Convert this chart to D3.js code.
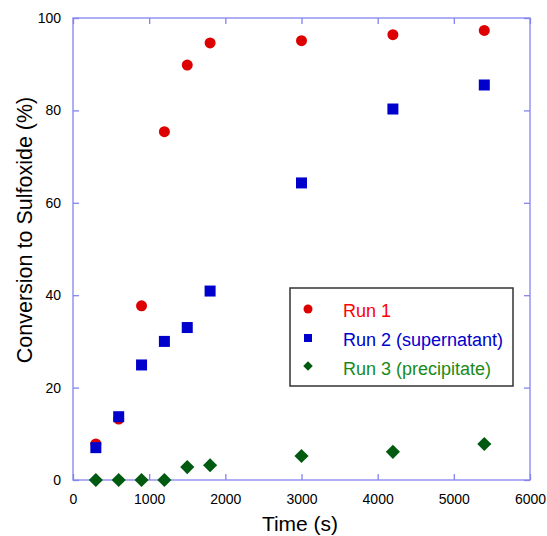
<!DOCTYPE html>
<html>
<head>
<meta charset="utf-8">
<script src="https://cdn.jsdelivr.net/npm/d3@7"></script>
<style>
  body { margin: 0; background: #fff; }
  text { font-family: Arial, "Liberation Sans", sans-serif; }
</style>
</head>
<body>
<svg id="chart" width="547" height="536"></svg>
<script>
const times = [300, 600, 900, 1200, 1500, 1800, 3000, 4200, 5400];
const run1 = [7.8, 13.2, 37.7, 75.4, 89.8, 94.6, 95.1, 96.4, 97.3];
const run2 = [7.0, 13.7, 24.9, 30.0, 33.0, 40.9, 64.3, 80.3, 85.5];
const run3 = [0, 0, 0, 0, 2.8, 3.2, 5.2, 6.1, 7.8];
const xTicks = [0, 1000, 2000, 3000, 4000, 5000, 6000];
const yTicks = [0, 20, 40, 60, 80, 100];
const seriesNames = ["Run 1", "Run 2 (supernatant)", "Run 3 (precipitate)"];

const svg = d3.select("#chart");
const mLeft = 73, mRight = 530, mTop = 18, mBottom = 480;
const axisColor = "#8484f0";

const x = d3.scaleLinear().domain([0, 6000]).range([mLeft, mRight]);
const y = d3.scaleLinear().domain([0, 100]).range([mBottom, mTop]);

// frame
svg.append("rect")
  .attr("x", mLeft).attr("y", mTop)
  .attr("width", mRight - mLeft).attr("height", mBottom - mTop)
  .attr("fill", "none").attr("stroke", axisColor).attr("stroke-width", 1.3);

// axes with inner ticks
function styleAxis(g) {
  g.select(".domain").remove();
  g.selectAll("line").attr("stroke", axisColor).attr("stroke-width", 1.3);
  g.selectAll("text").attr("fill", "#000").style("font-size", "14px");
}

svg.append("g").attr("transform", `translate(0,${mBottom})`)
  .call(d3.axisBottom(x).tickValues(xTicks).tickFormat(d3.format("d"))
    .tickSizeInner(-6).tickSizeOuter(0).tickPadding(14))
  .call(styleAxis);
svg.append("g").attr("transform", `translate(0,${mTop})`)
  .call(d3.axisTop(x).tickValues(xTicks).tickSizeInner(-6).tickSizeOuter(0).tickFormat(""))
  .call(styleAxis);
svg.append("g").attr("transform", `translate(${mLeft},0)`)
  .call(d3.axisLeft(y).tickValues(yTicks).tickSizeInner(-6).tickSizeOuter(0).tickPadding(12))
  .call(styleAxis);
svg.append("g").attr("transform", `translate(${mRight},0)`)
  .call(d3.axisRight(y).tickValues(yTicks).tickSizeInner(-6).tickSizeOuter(0).tickFormat(""))
  .call(styleAxis);

// axis titles
svg.append("text")
  .attr("x", 300).attr("y", 531)
  .attr("text-anchor", "middle").style("font-size", "21px")
  .text("Time (s)");
svg.append("text")
  .attr("transform", "translate(32,230) rotate(-90)")
  .attr("text-anchor", "middle").style("font-size", "21.5px")
  .text("Conversion to Sulfoxide (%)");

const plot = svg.append("g");

plot.selectAll("circle.r1").data(times.map((t, i) => [t, run1[i]]))
  .enter().append("circle")
  .attr("cx", d => x(d[0])).attr("cy", d => y(d[1]))
  .attr("r", 5.5).attr("fill", "#dd0000");

plot.selectAll("rect.r2").data(times.map((t, i) => [t, run2[i]]))
  .enter().append("rect")
  .attr("x", d => x(d[0]) - 5.5).attr("y", d => y(d[1]) - 5.5)
  .attr("width", 11).attr("height", 11).attr("fill", "#0000cc");

const diamond = d3.symbol().type(d3.symbolSquare).size(100);
plot.selectAll("path.r3").data(times.map((t, i) => [t, run3[i]]))
  .enter().append("path")
  .attr("d", diamond)
  .attr("transform", d => `translate(${x(d[0])},${y(d[1])}) rotate(45)`)
  .attr("fill", "#005a10");

// legend
const lg = svg.append("g");
lg.append("rect")
  .attr("x", 290).attr("y", 288).attr("width", 223).attr("height", 98)
  .attr("fill", "#fff").attr("stroke", "#333").attr("stroke-width", 1.5);

const legendColors = ["#ff0000", "#0000cc", "#1a8a1a"];
const rowY = [310, 339, 368];
lg.append("circle").attr("cx", 308).attr("cy", rowY[0] - 1).attr("r", 4.5).attr("fill", "#dd0000");
lg.append("rect").attr("x", 304).attr("y", rowY[1] - 5).attr("width", 8).attr("height", 8).attr("fill", "#0000cc");
lg.append("path").attr("d", d3.symbol().type(d3.symbolSquare).size(45))
  .attr("transform", `translate(308,${rowY[2] - 2}) rotate(45)`).attr("fill", "#005a10");

seriesNames.forEach((name, i) => {
  lg.append("text")
    .attr("x", 343).attr("y", rowY[i] + 7)
    .attr("fill", legendColors[i]).style("font-size", "18px")
    .text(name);
});
</script>
</body>
</html>
